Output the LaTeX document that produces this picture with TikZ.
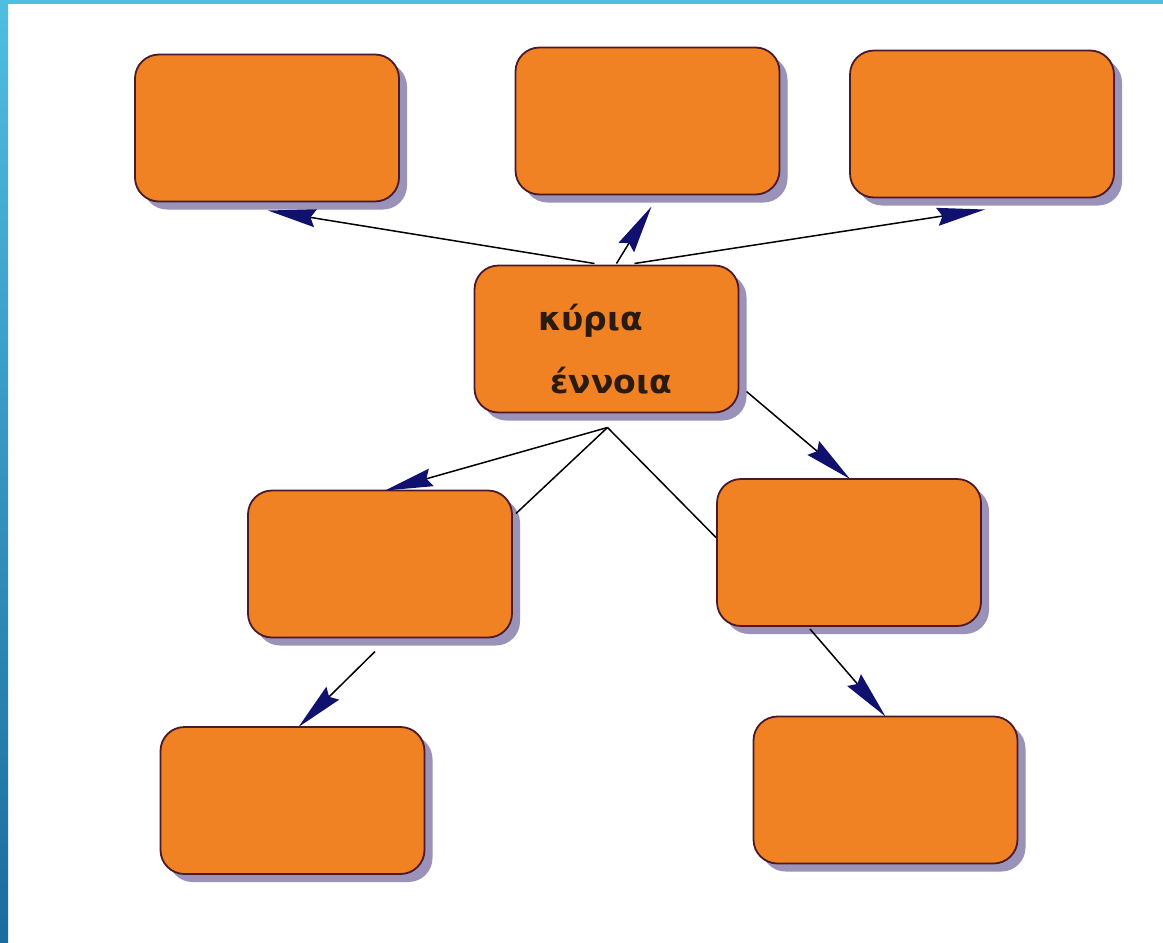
\documentclass[tikz,border=0pt]{standalone}
\usepackage{fontspec}
\newfontfamily\greekfont{DejaVu Sans}
\usetikzlibrary{arrows.meta,shadows,calc}
\definecolor{boxorange}{HTML}{F08223}
\definecolor{boxborder}{HTML}{4A1A2A}
\definecolor{shadowc}{HTML}{9A92B8}
\definecolor{arrownavy}{HTML}{10106E}
\definecolor{textc}{HTML}{2A1A10}
\definecolor{bartop}{HTML}{50BEE0}
\definecolor{barbot}{HTML}{1A6C9E}
\begin{document}
\begin{tikzpicture}[x=1pt,y=-1pt,
  box/.style={draw=boxborder, line width=1.8pt, fill=boxorange, rounded corners=24pt,
    minimum width=264pt, minimum height=147pt, inner sep=0pt, outer sep=0pt,
    drop shadow={shadow xshift=8pt, shadow yshift=-8pt, fill=shadowc, opacity=1}},
  conn/.style={line width=1.5pt, draw=black,
    -{Stealth[length=48pt,width=18pt,inset=5pt,color=arrownavy]}},
  plainline/.style={line width=1.5pt, draw=black},
  lbl/.style={font=\greekfont\bfseries\fontsize{33}{38}\selectfont, inner sep=0pt,
    anchor=base west, text=textc}]
\useasboundingbox (0,0) rectangle (1163,943);
\fill[white] (0,0) rectangle (1163,943);
\shade[top color=bartop, bottom color=barbot] (0,0) rectangle (8,943);
\fill[bartop] (0,0) rectangle (1163,3.5);

\node[box] (TL) at (267,128) {};
\node[box] (TM) at (647.5,121) {};
\node[box] (TR) at (982,124) {};
\node[box] (C) at (606.5,339) {};
\node[box] (ML) at (380,564) {};
\node[box] (MR) at (849,552.5) {};
\node[box] (BL) at (292.5,800.5) {};
\node[box] (BR) at (885.5,790) {};

\node[lbl] (t1) at (538,330) {κύρια};
\node[lbl] (t2) at (550,393) {έννοια};

\coordinate (cb) at ($(C.south)+(1,15)$);

\draw[conn] ($(C.north)+(-12,-2)$) -- ($(TL.south)+(1,9)$);
\draw[conn] ($(C.north)+(10,-2)$) -- ($(TM.south)+(4,12)$);
\draw[conn] ($(C.north)+(28,-2)$) -- ($(TR.south)+(3,12)$);

\draw[conn] (cb) -- ($(ML.north)+(5,0)$);
\draw[plainline] (cb) -- ($(ML.north east)+(4,23)$);
\draw[plainline] (cb) -- ($(MR.west)+(-1,-15)$);

\draw[conn] ($(C.south east)+(8,-21)$) -- ($(MR.north)+(1,0)$);
\draw[conn] ($(MR.south)+(-39,3)$) -- (BR.north);
\draw[conn] ($(ML.south)+(-5,14)$) -- ($(BL.north)+(6,0)$);
\end{tikzpicture}
\end{document}
